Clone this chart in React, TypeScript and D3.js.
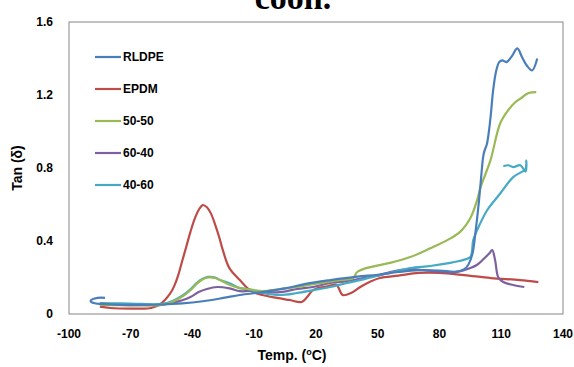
import * as d3 from 'd3';

const W = 574;
const H = 367;
const margin = { top: 22, right: 11, bottom: 53, left: 69 };

const xTicks = [-100, -70, -40, -10, 20, 50, 80, 110, 140];
const yTicks = [0, 0.4, 0.8, 1.2, 1.6];

const seriesNames = ['RLDPE', 'EPDM', '50-50', '60-40', '40-60'];
const seriesColors = ['#4A7EBB', '#BE4B48', '#98B954', '#7D60A0', '#46AAC5'];

const rldpeT = [-82.5, -86, -89.5, -88, -84, -75, -65, -55, -45, -35, -25, -17, -6, 5, 15, 27, 40, 50, 60, 70, 80, 88, 92, 94, 96, 97.5, 99, 100, 101.5, 103, 104, 105, 106, 107.5, 109, 110.5, 112.5, 115, 117.8, 120, 122.5, 125, 127.5];
const rldpeV = [0.088, 0.088, 0.072, 0.06, 0.055, 0.05, 0.05, 0.052, 0.058, 0.07, 0.088, 0.104, 0.12, 0.14, 0.165, 0.186, 0.205, 0.215, 0.23, 0.24, 0.238, 0.232, 0.245, 0.27, 0.33, 0.45, 0.6, 0.72, 0.88, 0.93, 1.0, 1.1, 1.22, 1.33, 1.38, 1.39, 1.38, 1.41, 1.455, 1.41, 1.36, 1.335, 1.4];

const epdmT = [-85, -80, -70, -60, -55, -51, -49, -47, -45, -43, -41, -39, -37, -35, -33, -31, -29, -27, -25, -22, -17, -12, -6, 1, 7, 13, 15.7, 18, 21, 25, 28, 30, 33, 37, 41.5, 46, 51, 60, 70, 80, 92, 105, 119, 128];
const epdmV = [0.04, 0.033, 0.03, 0.033, 0.06, 0.11, 0.15, 0.21, 0.29, 0.37, 0.45, 0.52, 0.57, 0.597, 0.585, 0.55, 0.49, 0.42, 0.34, 0.25, 0.186, 0.13, 0.104, 0.088, 0.077, 0.066, 0.093, 0.126, 0.142, 0.15, 0.158, 0.16, 0.104, 0.115, 0.148, 0.175, 0.197, 0.21, 0.225, 0.225, 0.213, 0.197, 0.186, 0.175];

const b5050T = [-85, -75, -65, -55, -50, -45, -41, -38, -35, -32.4, -29, -26.6, -22, -17, -12, -6, 2.6, 10.8, 18.6, 25.4, 31.7, 38, 40, 43, 51, 56, 65.8, 75.5, 83.8, 90, 95, 98.3, 100, 104.7, 109.5, 113.4, 116.8, 119.3, 123, 127];
const b5050V = [0.05, 0.048, 0.048, 0.05, 0.065, 0.095, 0.13, 0.165, 0.19, 0.2, 0.197, 0.186, 0.16, 0.142, 0.135, 0.126, 0.137, 0.148, 0.164, 0.175, 0.186, 0.197, 0.23, 0.246, 0.268, 0.28, 0.312, 0.36, 0.405, 0.45, 0.526, 0.625, 0.696, 0.84, 1.045, 1.117, 1.16, 1.18, 1.21, 1.216];

const b6040T = [-85, -75, -65, -55, -50, -45, -41, -37, -33, -28, -22, -17, -12, -6, 2.6, 10.8, 18.6, 26.9, 35, 43, 51, 56, 65.8, 75.5, 88.6, 95, 98.3, 101.3, 104, 105.6, 107, 108.6, 111, 115.8, 121.2];
const b6040V = [0.05, 0.05, 0.048, 0.05, 0.06, 0.075, 0.093, 0.12, 0.137, 0.148, 0.14, 0.125, 0.126, 0.12, 0.12, 0.137, 0.148, 0.17, 0.18, 0.197, 0.213, 0.23, 0.246, 0.236, 0.23, 0.252, 0.27, 0.3, 0.33, 0.35, 0.296, 0.2, 0.175, 0.159, 0.148];

const b4060T = [-85, -75, -65, -55, -50, -45, -41, -38, -35, -32.4, -29, -26.6, -22, -17, -13.5, -6, 2.6, 10.8, 18.6, 26.9, 35, 43, 51, 56, 65.8, 75.5, 85.2, 91.5, 95, 96.4, 98.3, 103.2, 109.5, 115.8, 120.2, 121.7, 122.2, 121.8, 119.3, 115.8, 113.4, 111];
const b4060V = [0.06, 0.058, 0.055, 0.055, 0.07, 0.1, 0.135, 0.17, 0.193, 0.203, 0.2, 0.186, 0.168, 0.142, 0.137, 0.115, 0.104, 0.115, 0.131, 0.148, 0.17, 0.19, 0.213, 0.225, 0.252, 0.263, 0.28, 0.296, 0.312, 0.405, 0.46, 0.57, 0.66, 0.75, 0.78, 0.79, 0.84, 0.78, 0.815, 0.805, 0.815, 0.81];

const seriesT = [rldpeT, epdmT, b5050T, b6040T, b4060T];
const seriesV = [rldpeV, epdmV, b5050V, b6040V, b4060V];

const font = '"Liberation Sans", Arial, sans-serif';

const App = () => {
  const xScale = d3
    .scaleLinear()
    .domain([-100, 140])
    .range([margin.left, W - margin.right]);
  const yScale = d3
    .scaleLinear()
    .domain([0, 1.6])
    .range([H - margin.bottom, margin.top]);

  const line = d3
    .line<[number, number]>()
    .x(d => xScale(d[0]))
    .y(d => yScale(d[1]))
    .curve(d3.curveCatmullRom.alpha(0.5));

  // draw order: last series on top like the original
  const order = [1, 3, 4, 2, 0];

  return (
    <svg
      width={W}
      height={H}
      viewBox={`0 0 ${W} ${H}`}
      style={{ position: 'absolute', left: 0, top: 0, background: '#fff' }}
    >
      <text
        x={293}
        y={9}
        textAnchor="middle"
        fontFamily='"Liberation Serif", "Times New Roman", serif'
        fontWeight="bold"
        fontSize={34}
      >
        cooh.
      </text>
      <rect
        x={margin.left}
        y={margin.top}
        width={W - margin.left - margin.right}
        height={H - margin.top - margin.bottom}
        fill="none"
        stroke="#868686"
        strokeWidth={1}
      />
      {order.map(i => (
        <path
          key={seriesNames[i]}
          d={line(seriesT[i].map((t, j) => [t, seriesV[i][j]] as [number, number])) || ''}
          fill="none"
          stroke={seriesColors[i]}
          strokeWidth={2.2}
          strokeLinejoin="round"
        />
      ))}
      {yTicks.map(t => (
        <text
          key={t}
          x={margin.left - 16}
          y={yScale(t)}
          dy="0.35em"
          textAnchor="end"
          fontFamily={font}
          fontWeight="bold"
          fontSize={12}
        >
          {t === 0 ? '0' : t.toFixed(1)}
        </text>
      ))}
      {xTicks.map(t => (
        <text
          key={t}
          x={xScale(t)}
          y={338}
          textAnchor="middle"
          fontFamily={font}
          fontWeight="bold"
          fontSize={12}
        >
          {t}
        </text>
      ))}
      <text
        x={292}
        y={360}
        textAnchor="middle"
        fontFamily={font}
        fontWeight="bold"
        fontSize={14}
      >
        Temp. (
        <tspan fontSize={9} dy={-5}>o</tspan>
        <tspan dy={5}>C)</tspan>
      </text>
      <text
        transform={`translate(22, ${(margin.top + H - margin.bottom) / 2}) rotate(-90)`}
        textAnchor="middle"
        fontFamily={font}
        fontWeight="bold"
        fontSize={14}
      >
        Tan (δ)
      </text>
      {seriesNames.map((name, i) => (
        <g key={name} transform={`translate(95, ${57 + i * 32})`}>
          <line x1={0} x2={26} y1={0} y2={0} stroke={seriesColors[i]} strokeWidth={2.2} />
          <text x={28} y={0} dy="0.35em" fontFamily={font} fontWeight="bold" fontSize={12}>
            {name}
          </text>
        </g>
      ))}
    </svg>
  );
};

export default App;
